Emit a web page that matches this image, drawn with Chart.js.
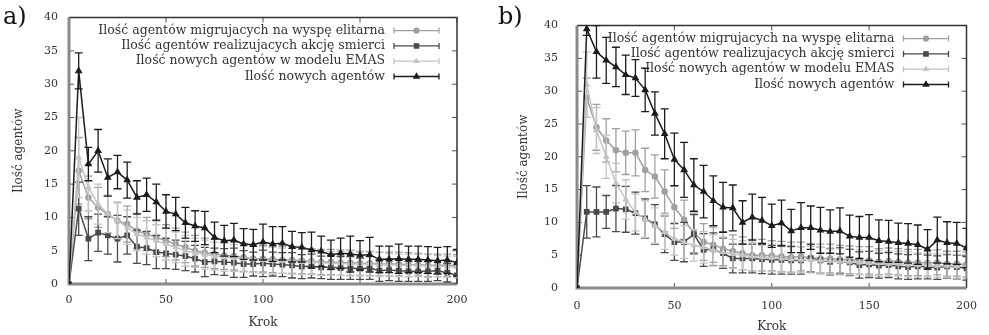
<!DOCTYPE html>
<html>
<head>
<meta charset="utf-8">
<script src="https://cdn.jsdelivr.net/npm/chart.js@4"></script>
<style>
body { margin: 0; background: #fff; }
#wrap { position: relative; width: 989px; height: 335px; overflow: hidden; }
canvas { position: absolute; top: 0; }
#chartA { left: 0; }
#chartB { left: 489px; }
.tag { position: absolute; top: 2px; font-family: 'DejaVu Serif'; font-size: 24px; color: #111; }
</style>
</head>
<body>
<div id="wrap">
  <canvas id="chartA" width="489" height="335"></canvas>
  <canvas id="chartB" width="500" height="335"></canvas>
  <div class="tag" style="left:3px">a)</div>
  <div class="tag" style="left:498px">b)</div>
</div>
<script>
// simulation steps (x axis)
const steps = [0, 5, 10, 15, 20, 25, 30, 35, 40, 45, 50, 55, 60, 65, 70, 75, 80, 85, 90, 95, 100,
    105, 110, 115, 120, 125, 130, 135, 140, 145, 150, 155, 160, 165, 170, 175, 180, 185, 190, 195, 200];

const seriesLabels = [
    'Ilość agentów migrujacych na wyspę elitarna',
    'Ilość agentów realizujacych akcję smierci',
    'Ilość nowych agentów w modelu EMAS',
    'Ilość nowych agentów'
];

// panel a)
const aMigr = [0, 17, 13, 11.5, 10.5, 9.5, 9, 8, 7.5, 7, 6.5, 6, 5.5, 5, 4.7, 4.5, 4.3, 4.2, 4, 3.8,
    3.8, 3.7, 3.6, 3.6, 3.5, 3.4, 3.3, 3.3, 3.2, 3.2, 3.1, 3.1, 3.0, 3.0, 3.0, 2.9, 2.9, 2.8, 2.8, 2.8, 2.7];
const aMigrErr = [0, 5, 3.2, 3, 2.8, 2.8, 2.7, 2.6, 2.5, 2.5, 2.4, 2.4, 2.3, 2.3, 2.2, 2.2, 2.1, 2.1, 2.1, 2.0,
    2.0, 2.0, 2.0, 2.0, 2.0, 1.9, 1.9, 1.9, 1.9, 1.9, 1.8, 1.8, 1.8, 1.8, 1.8, 1.8, 1.7, 1.7, 1.7, 1.7, 1.7];
const aDeath = [0, 11.3, 6.8, 7.7, 7.3, 6.8, 7.3, 5.6, 5.4, 4.8, 4.6, 4.4, 4.2, 3.8, 3.3, 3.4, 3.3, 3.2, 3.0, 3.0,
    3.1, 3.0, 2.9, 2.8, 2.6, 2.7, 2.5, 2.5, 2.4, 2.4, 2.3, 2.4, 2.0, 2.1, 2.0, 1.9, 1.9, 1.9, 2.0, 1.7, 1.3];
const aDeathErr = [0, 4.0, 3.3, 2.8, 2.8, 3.5, 2.8, 2.5, 2.5, 2.5, 2.3, 2.2, 2.2, 2.0, 2.2, 2.0, 2.0, 2.2, 2.0, 1.8,
    2.0, 1.8, 1.8, 1.9, 1.8, 1.8, 1.7, 1.8, 1.7, 1.7, 1.6, 1.7, 1.6, 1.6, 1.6, 1.5, 1.5, 1.5, 1.5, 1.4, 1.3];
const aEmas = [0, 19, 14.5, 12, 10.5, 9.5, 8.5, 7.5, 7, 6.5, 6, 5.5, 5, 4.7, 4.4, 4.2, 4, 3.9, 3.8, 3.7,
    3.6, 3.5, 3.5, 3.4, 3.3, 3.3, 3.2, 3.1, 3.1, 3, 3, 3, 2.9, 2.9, 2.8, 2.8, 2.8, 2.7, 2.7, 2.6, 2.6];
const aEmasErr = [0, 6, 3.5, 3, 2.8, 2.7, 2.6, 2.5, 2.5, 2.4, 2.4, 2.3, 2.3, 2.2, 2.2, 2.1, 2.1, 2.0, 2.0, 2.0,
    2.0, 2.0, 1.9, 1.9, 1.9, 1.9, 1.9, 1.8, 1.8, 1.8, 1.8, 1.8, 1.8, 1.7, 1.7, 1.7, 1.7, 1.7, 1.6, 1.6, 1.6];
const aNew = [0, 32, 18, 20, 16, 16.8, 15.6, 13, 13.4, 12.3, 10.9, 10.5, 9.2, 8.7, 8.4, 7, 6.5, 6.6, 6, 5.9,
    6.3, 6, 6.1, 5.6, 5.5, 5.1, 4.9, 4.4, 4.6, 4.5, 4.3, 4.4, 3.7, 3.7, 3.8, 3.7, 3.7, 3.6, 3.5, 3.6, 3.2];
const aNewErr = [0, 2.7, 2.5, 3.2, 2.8, 2.5, 2.7, 2.5, 2.5, 2.7, 2.5, 2.5, 2.3, 2.3, 2.5, 2.3, 2.3, 2.5, 2.3, 2.3,
    2.7, 2.6, 2.5, 2.3, 2.2, 2.7, 2.3, 2.2, 2.3, 2.7, 2.2, 2.6, 2.0, 2.0, 2.2, 2.0, 2.0, 2.0, 2.0, 2.0, 2.0];

// panel b)
const bMigr = [0, 29, 24.5, 22.5, 21, 20.6, 20.6, 18, 17, 14.7, 12.3, 10.4, 8.4, 7, 6.6, 6, 5.6, 5.3, 5, 5,
    4.9, 4.8, 4.7, 4.8, 4.6, 4.5, 4.5, 4.4, 4.3, 4.2, 4.2, 4.0, 4.1, 4.0, 3.9, 3.9, 3.8, 3.9, 3.7, 3.7, 3.6];
const bMigrErr = [0, 3, 3.5, 3.3, 3.3, 3.3, 3.5, 3.3, 3.3, 3.3, 3.2, 3, 3, 2.8, 2.7, 2.6, 2.5, 2.5, 2.4, 2.4,
    2.3, 2.3, 2.3, 2.2, 2.2, 2.2, 2.2, 2.1, 2.1, 2.1, 2.1, 2.0, 2.0, 2.0, 2.0, 2.0, 2.0, 1.9, 1.9, 1.9, 1.9];
const bDeath = [0, 11.6, 11.6, 11.6, 12.1, 12, 11.4, 10.6, 9.7, 8.2, 7.0, 7.0, 8.2, 5.8, 5.9, 5.3, 4.5, 4.5, 4.5, 4.4,
    4.3, 4.3, 4.2, 4.2, 4.5, 4.2, 4.0, 4.1, 3.9, 3.5, 3.6, 3.4, 3.5, 3.3, 3.2, 3.3, 3.2, 3.1, 3.3, 3.2, 3.0];
const bDeathErr = [0, 4, 3.8, 2.5, 3.5, 3.5, 3.2, 3, 3, 2.8, 2.8, 3, 3, 2.5, 2.5, 2.3, 2.2, 2.2, 2.2, 2.2,
    2.2, 2.2, 2.1, 2.1, 2.1, 2.0, 2.0, 2.0, 2.0, 2.0, 2.0, 1.9, 1.9, 1.9, 1.9, 1.9, 1.8, 1.8, 1.8, 1.8, 1.8];
const bEmas = [0, 31, 24, 20, 16, 13.5, 11.5, 10.5, 9.5, 8.5, 7.5, 7, 6.5, 6.2, 5.8, 5.5, 5.2, 5, 4.8, 4.7,
    4.6, 4.5, 4.4, 4.3, 4.3, 4.2, 4.1, 4.0, 4.0, 3.9, 3.8, 3.8, 3.7, 3.7, 3.6, 3.5, 3.5, 3.4, 3.4, 3.3, 3.3];
const bEmasErr = [0, 5, 3.5, 3.3, 3, 3, 2.8, 2.8, 2.7, 2.6, 2.5, 2.5, 2.4, 2.4, 2.3, 2.3, 2.2, 2.2, 2.2, 2.1,
    2.1, 2.1, 2.1, 2.0, 2.0, 2.0, 2.0, 2.0, 2.0, 1.9, 1.9, 1.9, 1.9, 1.9, 1.9, 1.8, 1.8, 1.8, 1.8, 1.8, 1.8];
const bNew = [0, 39.5, 36, 34.7, 33.7, 32.5, 32, 30.2, 26.6, 23.5, 19.6, 18, 15.7, 14.7, 13.3, 12.3, 12.2, 10, 10.8, 10.3,
    9.5, 9.9, 8.7, 9.2, 9.2, 8.8, 8.6, 8.7, 7.9, 7.7, 7.7, 7.2, 7.1, 6.9, 6.8, 6.6, 5.9, 7.3, 6.9, 6.8, 6.1];
const bNewErr = [0, 1, 4, 3.5, 3, 3, 2.8, 3.3, 3.3, 3.8, 4, 4.2, 4, 4, 3.8, 3.8, 3.5, 3.3, 3.5, 3.5,
    3.3, 3.5, 3.3, 3.8, 3.3, 3.5, 3.3, 3.5, 3.2, 3.2, 3.5, 3.2, 3.2, 3, 3, 3, 3, 3.5, 3.2, 3.2, 3];

const seriesColors = ['#a0a0a0', '#4a4a4a', '#c4c4c4', '#1c1c1c'];
const seriesPoints = ['circle', 'rect', 'triangle', 'triangle'];
const seriesRadius = [2.5, 3, 2.5, 3];

const serif = 'DejaVu Serif';
const textColor = '#333';

// vertical error bars, drawn under each line
const errorBars = {
    id: 'errorBars',
    beforeDatasetDraw(chart, args) {
        const ds = chart.data.datasets[args.index];
        if (!ds.errors) return;
        const { ctx, chartArea } = chart;
        const xs = chart.scales.x, ys = chart.scales.y;
        ctx.save();
        ctx.beginPath();
        ctx.rect(chartArea.left, chartArea.top, chartArea.right - chartArea.left, chartArea.bottom - chartArea.top);
        ctx.clip();
        ctx.strokeStyle = ds.borderColor;
        ctx.lineWidth = 1.3;
        ds.data.forEach((p, i) => {
            const e = ds.errors[i];
            if (!e) return;
            const x = xs.getPixelForValue(p.x);
            const y1 = ys.getPixelForValue(p.y - e);
            const y2 = ys.getPixelForValue(p.y + e);
            ctx.beginPath();
            ctx.moveTo(x, y1); ctx.lineTo(x, y2);
            ctx.moveTo(x - 4, y1); ctx.lineTo(x + 4, y1);
            ctx.moveTo(x - 4, y2); ctx.lineTo(x + 4, y2);
            ctx.stroke();
        });
        ctx.restore();
    }
};

// gnuplot-like box with inner ticks
const frame = {
    id: 'frame',
    beforeDatasetsDraw(chart) {
        const { ctx, chartArea: a } = chart;
        const xs = chart.scales.x, ys = chart.scales.y;
        ctx.save();
        ctx.strokeStyle = '#555';
        ctx.lineWidth = 1;
        ctx.beginPath();
        xs.ticks.forEach(t => {
            const x = xs.getPixelForValue(t.value);
            ctx.moveTo(x, a.bottom); ctx.lineTo(x, a.bottom - 5);
            ctx.moveTo(x, a.top); ctx.lineTo(x, a.top + 5);
        });
        ys.ticks.forEach(t => {
            const y = ys.getPixelForValue(t.value);
            ctx.moveTo(a.left, y); ctx.lineTo(a.left + 5, y);
            ctx.moveTo(a.right, y); ctx.lineTo(a.right - 5, y);
        });
        ctx.stroke();
        ctx.strokeStyle = '#333';
        ctx.lineWidth = 1.5;
        ctx.beginPath();
        ctx.moveTo(a.left, a.top); ctx.lineTo(a.right, a.top); ctx.lineTo(a.right, a.bottom);
        ctx.stroke();
        ctx.strokeStyle = '#8a8a8a';
        ctx.lineWidth = 3;
        ctx.beginPath();
        ctx.moveTo(a.left, a.top); ctx.lineTo(a.left, a.bottom); ctx.lineTo(a.right, a.bottom);
        ctx.stroke();
        ctx.restore();
    }
};

// legend in the upper right corner, text right-aligned, error-bar sample on the right
const keyBox = {
    id: 'keyBox',
    afterDatasetsDraw(chart) {
        const { ctx, chartArea: a } = chart;
        const x2 = a.right - 18, x1 = a.right - 63, textX = a.right - 72;
        ctx.save();
        ctx.font = '12.5px "' + serif + '"';
        ctx.textAlign = 'right';
        ctx.textBaseline = 'middle';
        seriesLabels.forEach((label, i) => {
            const ds = chart.data.datasets[i];
            const y = a.top + 13 + i * 15.3;
            ctx.fillStyle = textColor;
            ctx.fillText(label, textX, y);
            ctx.strokeStyle = ds.borderColor;
            ctx.lineWidth = 1.3;
            ctx.beginPath();
            ctx.moveTo(x1, y); ctx.lineTo(x2, y);
            ctx.moveTo(x1, y - 3); ctx.lineTo(x1, y + 3);
            ctx.moveTo(x2, y - 3); ctx.lineTo(x2, y + 3);
            ctx.stroke();
            ctx.fillStyle = ds.borderColor;
            Chart.helpers.drawPoint(ctx, { pointStyle: ds.pointStyle, radius: ds.pointRadius, rotation: 0, borderWidth: 1 }, (x1 + x2) / 2, y);
            ctx.fill();
        });
        ctx.restore();
    }
};

function buildChart(id, series, geo) {
    const datasets = series.map((s, i) => ({
        label: seriesLabels[i],
        data: steps.map((x, j) => ({ x: x, y: s.values[j] })),
        errors: s.errors,
        borderColor: seriesColors[i],
        backgroundColor: seriesColors[i],
        pointStyle: seriesPoints[i],
        pointRadius: seriesRadius[i],
        borderWidth: 1.5,
        tension: 0,
        order: 4 - i
    }));
    return new Chart(document.getElementById(id), {
        type: 'line',
        data: { datasets },
        options: {
            responsive: false,
            animation: false,
            events: [],
            layout: { padding: { left: 0, top: geo.top, right: geo.right, bottom: 0 } },
            plugins: { legend: { display: false }, tooltip: { enabled: false } },
            scales: {
                x: {
                    type: 'linear', min: 0, max: 200,
                    grid: { display: false, drawTicks: false },
                    border: { display: false },
                    ticks: { stepSize: 50, padding: geo.xTickPad, color: textColor, font: { family: serif, size: 11 } },
                    title: { display: true, text: 'Krok', color: textColor, font: { family: serif, size: 12 },
                        padding: { top: 0, bottom: geo.xTitlePad } },
                    afterFit: scale => { scale.height = geo.xHeight; }
                },
                y: {
                    min: 0, max: 40,
                    grid: { display: false, drawTicks: false },
                    border: { display: false },
                    ticks: { stepSize: 5, padding: geo.yTickPad, color: textColor, font: { family: serif, size: 11 } },
                    title: { display: true, text: 'Ilość agentów', color: textColor, font: { family: serif, size: 12 },
                        padding: { top: geo.yTitlePad, bottom: 0 } },
                    afterFit: scale => { scale.width = geo.yWidth; }
                }
            }
        },
        plugins: [frame, errorBars, keyBox]
    });
}

buildChart('chartA', [
    { values: aMigr, errors: aMigrErr },
    { values: aDeath, errors: aDeathErr },
    { values: aEmas, errors: aEmasErr },
    { values: aNew, errors: aNewErr }
], { top: 12, right: 32, yWidth: 69, xHeight: 51, yTickPad: 11, xTickPad: 10, yTitlePad: 12, xTitlePad: 5 });

buildChart('chartB', [
    { values: bMigr, errors: bMigrErr },
    { values: bDeath, errors: bDeathErr },
    { values: bEmas, errors: bEmasErr },
    { values: bNew, errors: bNewErr }
], { top: 13, right: 20, yWidth: 88, xHeight: 47, yTickPad: 19, xTickPad: 12, yTitlePad: 28, xTitlePad: 1 });
</script>
</body>
</html>
